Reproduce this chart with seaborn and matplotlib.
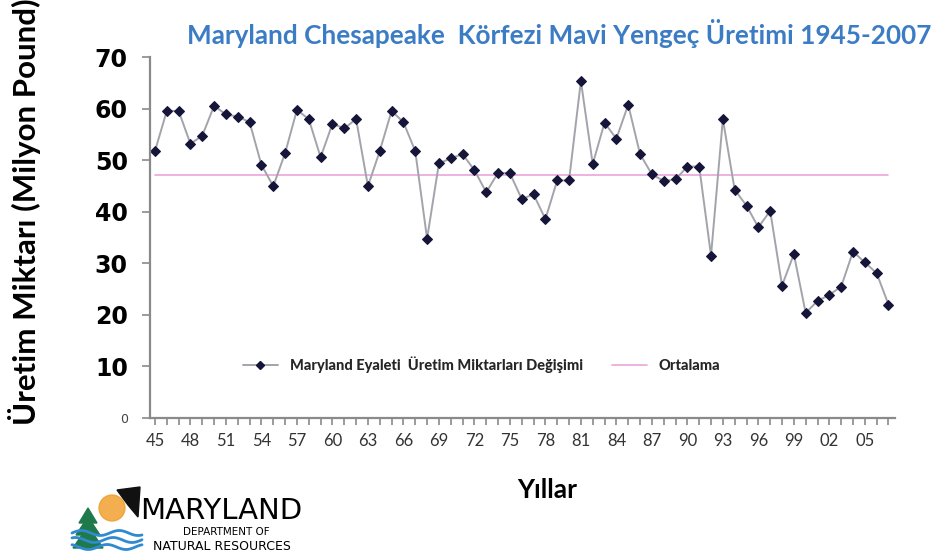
import numpy as np
import pandas as pd
import seaborn as sns
import matplotlib.pyplot as plt
from matplotlib.lines import Line2D
from matplotlib.patches import Circle, Polygon

# values (million pounds)
years = list(range(1945, 2008))
uretim = [51.8, 59.6, 59.6, 53.2, 54.8, 60.6, 58.9, 58.5, 57.4, 49.1,
          45.0, 51.4, 59.8, 58.0, 50.6, 57.1, 56.2, 58.0, 45.0, 51.8,
          59.6, 57.4, 51.8, 34.8, 49.4, 50.4, 51.2, 48.1, 43.8, 47.6,
          47.5, 42.5, 43.4, 38.6, 46.1, 46.1, 65.4, 49.3, 57.3, 54.2,
          60.8, 51.2, 47.3, 46.0, 46.3, 48.8, 48.8, 31.5, 58.0, 44.3,
          41.2, 37.0, 40.2, 25.7, 31.8, 20.4, 22.7, 23.9, 25.5, 32.3,
          30.2, 28.1, 22.0]
ortalama = 47.2
y_ticks = [0, 10, 20, 30, 40, 50, 60, 70]
x_ticks = years[::3]
x_ticklabels = ['%02d' % (y % 100) for y in x_ticks]

title = 'Maryland Chesapeake  Körfezi Mavi Yengeç Üretimi 1945-2007'
seri_adi = 'Maryland Eyaleti  Üretim Miktarları Değişimi'
ort_adi = 'Ortalama'

df = pd.DataFrame({'Yil': years, 'Uretim': uretim, 'Ortalama': [ortalama] * len(years)})

sns.set_style('white')
plt.rcParams['font.family'] = ['Lato', 'DejaVu Sans']

line_col = '#a3a3ab'
mark_col = '#15153a'
mean_col = '#eaa6dc'

fig = plt.figure(figsize=(9.41, 5.57), dpi=100)
ax = fig.add_axes([150 / 941, 1 - 418 / 557, 745 / 941, (418 - 57.3) / 557])

sns.lineplot(data=df, x='Yil', y='Ortalama', ax=ax, color=mean_col, lw=1.2)
sns.lineplot(data=df, x='Yil', y='Uretim', ax=ax, color=line_col, lw=1.4,
             marker='D', markersize=5.5, markerfacecolor=mark_col,
             markeredgecolor=mark_col)

ax.set_xlim(1944.58, 2007.55)
ax.set_ylim(0, 70)
ax.set_xlabel('')
ax.set_ylabel('')

for s in ['top', 'right']:
    ax.spines[s].set_visible(False)
for s in ['left', 'bottom']:
    ax.spines[s].set_color('#8a8a8a')
    ax.spines[s].set_linewidth(1.6)

ax.set_xticks(years, minor=True)
ax.set_xticks(x_ticks)
ax.set_xticklabels(x_ticklabels, fontsize=12, color='#333333')
ax.tick_params(axis='x', which='both', direction='out', length=5,
               color='#8a8a8a', width=1.2, bottom=True, pad=6)

ax.set_yticks(y_ticks)
ax.set_yticklabels([str(v) for v in y_ticks], fontsize=17, fontweight='bold',
                   color='black', family=['DejaVu Sans'])
ax.tick_params(axis='y', direction='out', length=6, color='#8a8a8a',
               width=1.2, left=True, pad=10)
lbl0 = ax.get_yticklabels()[0]
lbl0.set_fontsize(9)
lbl0.set_fontweight('normal')
lbl0.set_color('#444444')

handles = [Line2D([], [], color=line_col, lw=1.4, marker='D', markersize=4.5,
                  markerfacecolor=mark_col, markeredgecolor=mark_col),
           Line2D([], [], color=mean_col, lw=1.2)]
ax.legend(handles, [seri_adi, ort_adi], ncol=2, frameon=False,
          loc='center', bbox_to_anchor=(0.445, 0.147), columnspacing=2.0,
          handlelength=2.4, prop={'weight': 'black', 'size': 10.5})

fig.text(559 / 941, 1 - 33 / 557, title, ha='center', va='center',
         fontsize=18.8, fontweight='bold', color='#3b7cc4')
fig.text(547 / 941, 1 - 490 / 557, 'Yıllar', ha='center', va='center',
         fontsize=19, fontweight='bold', color='black')
fig.text(25 / 941, 1 - 212 / 557, 'Üretim Miktarı (Milyon Pound)', ha='center',
         va='center', rotation=90, fontsize=22.5, fontweight='bold', color='black')

# Maryland DNR logo, rough sketch
fig.patches.append(Circle((112, 557 - 508), 13, transform=None,
                          color='#f0a030', alpha=0.85))
for dy, w, h in [(0, 15, 22), (13, 12, 18), (25, 9, 15)]:
    cx, cy = 88, 557 - 548 + dy
    fig.patches.append(Polygon([(cx - w, cy), (cx + w, cy), (cx, cy + h)],
                               closed=True, transform=None, color='#1e7a4a'))
fig.patches.append(Polygon([(117, 557 - 490), (140, 557 - 487), (138, 557 - 517),
                            (128, 557 - 505)], closed=True, transform=None,
                           color='#111111'))
xs = np.linspace(72, 142, 60)
for k, y0 in enumerate([533, 540, 547]):
    fig.lines.append(Line2D(xs, 557 - y0 + 2.5 * np.sin((xs - 72) / 6 + k),
                            transform=None, color='#2f8ad0', lw=2))
fig.text(140 / 941, 1 - 511 / 557, 'MARYLAND', ha='left', va='center',
         fontsize=21, color='black', family=['DejaVu Sans'])
fig.text(226 / 941, 1 - 532 / 557, 'DEPARTMENT OF', ha='center', va='center',
         fontsize=7.5, color='black', family=['DejaVu Sans'])
fig.text(222 / 941, 1 - 546 / 557, 'NATURAL RESOURCES', ha='center', va='center',
         fontsize=9, color='black', family=['DejaVu Sans'])

fig.savefig('out.png', dpi=100)
